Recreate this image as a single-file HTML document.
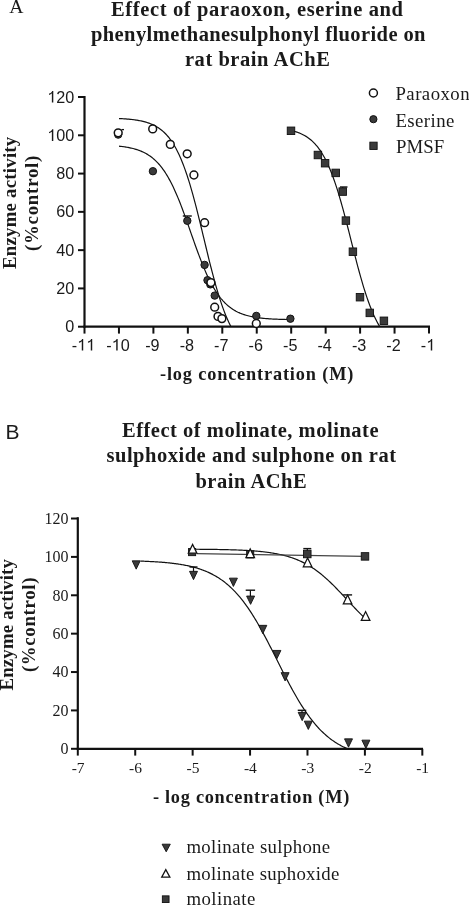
<!DOCTYPE html>
<html><head><meta charset="utf-8"><style>
html,body{margin:0;padding:0;background:#fff;}
svg{display:block;will-change:transform;}
</style></head><body>
<svg width="469" height="906" viewBox="0 0 469 906">
<rect width="469" height="906" fill="#fff"/>
<text x="9.18" y="12.9" font-family='"Liberation Serif", serif' font-size="17.8" fill="#1a1a1a" textLength="14.24" lengthAdjust="spacingAndGlyphs">A</text>
<text x="110.98" y="15.7" font-family='"Liberation Serif", serif' font-weight="bold" font-size="20.5" fill="#1a1a1a" textLength="292.00" lengthAdjust="spacing">Effect of paraoxon, eserine and</text>
<text x="91.00" y="40.7" font-family='"Liberation Serif", serif' font-weight="bold" font-size="20.5" fill="#1a1a1a" textLength="334.47" lengthAdjust="spacing">phenylmethanesulphonyl fluoride on</text>
<text x="184.95" y="66.2" font-family='"Liberation Serif", serif' font-weight="bold" font-size="20.5" fill="#1a1a1a" textLength="144.94" lengthAdjust="spacing">rat brain AChE</text>
<text x="159.98" y="380.4" font-family='"Liberation Serif", serif' font-weight="bold" font-size="18.3" fill="#1a1a1a" textLength="193.34" lengthAdjust="spacing">-log concentration (M)</text>
<text x="395.43" y="100.3" font-family='"Liberation Serif", serif' font-size="18.8" fill="#1a1a1a" textLength="74.17" lengthAdjust="spacing">Paraoxon</text>
<text x="395.43" y="126.8" font-family='"Liberation Serif", serif' font-size="18.8" fill="#1a1a1a" textLength="58.89" lengthAdjust="spacing">Eserine</text>
<text x="395.91" y="153.1" font-family='"Liberation Serif", serif' font-size="18.8" fill="#1a1a1a" textLength="48.38" lengthAdjust="spacing">PMSF</text>
<text transform="translate(16.0,269.03) rotate(-90)" font-family='"Liberation Serif", serif' font-weight="bold" font-size="18.8" fill="#1a1a1a" textLength="132.27" lengthAdjust="spacing">Enzyme activity</text>
<text transform="translate(38.0,251.09) rotate(-90)" font-family='"Liberation Serif", serif' font-weight="bold" font-size="18.8" fill="#1a1a1a" textLength="95.48" lengthAdjust="spacing">(%control)</text>
<text x="5.51" y="438.7" font-family='"Liberation Sans", sans-serif' font-size="19.5" fill="#1a1a1a" textLength="14.05" lengthAdjust="spacingAndGlyphs">B</text>
<text x="121.94" y="437.0" font-family='"Liberation Serif", serif' font-weight="bold" font-size="20.5" fill="#1a1a1a" textLength="256.62" lengthAdjust="spacing">Effect of molinate, molinate</text>
<text x="106.47" y="462.4" font-family='"Liberation Serif", serif' font-weight="bold" font-size="20.5" fill="#1a1a1a" textLength="289.62" lengthAdjust="spacing">sulphoxide and sulphone on rat</text>
<text x="195.45" y="488.4" font-family='"Liberation Serif", serif' font-weight="bold" font-size="20.5" fill="#1a1a1a" textLength="111.24" lengthAdjust="spacing">brain AChE</text>
<text x="152.92" y="802.7" font-family='"Liberation Serif", serif' font-weight="bold" font-size="18.3" fill="#1a1a1a" textLength="196.36" lengthAdjust="spacing">- log concentration (M)</text>
<text x="186.42" y="853.4" font-family='"Liberation Serif", serif' font-size="18.8" fill="#1a1a1a" textLength="143.77" lengthAdjust="spacing">molinate sulphone</text>
<text x="186.44" y="880.0" font-family='"Liberation Serif", serif' font-size="18.8" fill="#1a1a1a" textLength="152.91" lengthAdjust="spacing">molinate suphoxide</text>
<text x="186.41" y="905.4" font-family='"Liberation Serif", serif' font-size="18.8" fill="#1a1a1a" textLength="68.91" lengthAdjust="spacing">molinate</text>
<text transform="translate(13.3,690.52) rotate(-90)" font-family='"Liberation Serif", serif' font-weight="bold" font-size="18.8" fill="#1a1a1a" textLength="131.47" lengthAdjust="spacing">Enzyme activity</text>
<text transform="translate(35.3,672.08) rotate(-90)" font-family='"Liberation Serif", serif' font-weight="bold" font-size="18.8" fill="#1a1a1a" textLength="94.50" lengthAdjust="spacing">(%control)</text>
<line x1="84.5" y1="96" x2="84.5" y2="327.7" stroke="#111" stroke-width="2.2"/>
<line x1="83.5" y1="326.7" x2="430" y2="326.7" stroke="#111" stroke-width="2.2"/>
<line x1="78" y1="326.70" x2="84.5" y2="326.70" stroke="#111" stroke-width="2"/>
<text x="65.29" y="332.30" font-family='"Liberation Sans", sans-serif' font-size="16.2" fill="#1a1a1a">0</text>
<line x1="78" y1="288.42" x2="84.5" y2="288.42" stroke="#111" stroke-width="2"/>
<text x="56.28" y="294.02" font-family='"Liberation Sans", sans-serif' font-size="16.2" fill="#1a1a1a">20</text>
<line x1="78" y1="250.14" x2="84.5" y2="250.14" stroke="#111" stroke-width="2"/>
<text x="56.28" y="255.74" font-family='"Liberation Sans", sans-serif' font-size="16.2" fill="#1a1a1a">40</text>
<line x1="78" y1="211.86" x2="84.5" y2="211.86" stroke="#111" stroke-width="2"/>
<text x="56.28" y="217.46" font-family='"Liberation Sans", sans-serif' font-size="16.2" fill="#1a1a1a">60</text>
<line x1="78" y1="173.58" x2="84.5" y2="173.58" stroke="#111" stroke-width="2"/>
<text x="56.28" y="179.18" font-family='"Liberation Sans", sans-serif' font-size="16.2" fill="#1a1a1a">80</text>
<line x1="78" y1="135.30" x2="84.5" y2="135.30" stroke="#111" stroke-width="2"/>
<text x="47.27" y="140.90" font-family='"Liberation Sans", sans-serif' font-size="16.2" fill="#1a1a1a"> 00</text><path d="M53.30,140.90 L53.30,129.30 L52.21,129.30 L51.86,130.01 L51.24,130.77 L50.27,131.42 L49.04,131.89 L49.04,133.16 L50.11,132.75 L51.08,132.23 L51.86,131.63 L51.86,140.90 Z" fill="#1a1a1a"/>
<line x1="78" y1="97.02" x2="84.5" y2="97.02" stroke="#111" stroke-width="2"/>
<text x="47.27" y="102.62" font-family='"Liberation Sans", sans-serif' font-size="16.2" fill="#1a1a1a"> 20</text><path d="M53.30,102.62 L53.30,91.02 L52.21,91.02 L51.86,91.73 L51.24,92.49 L50.27,93.14 L49.04,93.61 L49.04,94.88 L50.11,94.47 L51.08,93.95 L51.86,93.35 L51.86,102.62 Z" fill="#1a1a1a"/>
<line x1="84.50" y1="326.7" x2="84.50" y2="333.6" stroke="#111" stroke-width="2"/>
<text x="71.79" y="350.60" font-family='"Liberation Sans", sans-serif' font-size="16.2" fill="#1a1a1a">-  </text><path d="M83.21,350.60 L83.21,339.00 L82.13,339.00 L81.77,339.71 L81.16,340.48 L80.18,341.12 L78.95,341.59 L78.95,342.86 L80.02,342.45 L80.99,341.93 L81.77,341.33 L81.77,350.60 Z" fill="#1a1a1a"/><path d="M92.22,350.60 L92.22,339.00 L91.14,339.00 L90.78,339.71 L90.17,340.48 L89.19,341.12 L87.96,341.59 L87.96,342.86 L89.03,342.45 L90.00,341.93 L90.78,341.33 L90.78,350.60 Z" fill="#1a1a1a"/>
<line x1="118.95" y1="326.7" x2="118.95" y2="333.6" stroke="#111" stroke-width="2"/>
<text x="106.24" y="350.60" font-family='"Liberation Sans", sans-serif' font-size="16.2" fill="#1a1a1a">- 0</text><path d="M117.66,350.60 L117.66,339.00 L116.58,339.00 L116.22,339.71 L115.61,340.48 L114.63,341.12 L113.40,341.59 L113.40,342.86 L114.47,342.45 L115.44,341.93 L116.22,341.33 L116.22,350.60 Z" fill="#1a1a1a"/>
<line x1="153.40" y1="326.7" x2="153.40" y2="333.6" stroke="#111" stroke-width="2"/>
<text x="145.20" y="350.60" font-family='"Liberation Sans", sans-serif' font-size="16.2" fill="#1a1a1a">-9</text>
<line x1="187.85" y1="326.7" x2="187.85" y2="333.6" stroke="#111" stroke-width="2"/>
<text x="179.65" y="350.60" font-family='"Liberation Sans", sans-serif' font-size="16.2" fill="#1a1a1a">-8</text>
<line x1="222.30" y1="326.7" x2="222.30" y2="333.6" stroke="#111" stroke-width="2"/>
<text x="214.10" y="350.60" font-family='"Liberation Sans", sans-serif' font-size="16.2" fill="#1a1a1a">-7</text>
<line x1="256.75" y1="326.7" x2="256.75" y2="333.6" stroke="#111" stroke-width="2"/>
<text x="248.55" y="350.60" font-family='"Liberation Sans", sans-serif' font-size="16.2" fill="#1a1a1a">-6</text>
<line x1="291.20" y1="326.7" x2="291.20" y2="333.6" stroke="#111" stroke-width="2"/>
<text x="283.00" y="350.60" font-family='"Liberation Sans", sans-serif' font-size="16.2" fill="#1a1a1a">-5</text>
<line x1="325.65" y1="326.7" x2="325.65" y2="333.6" stroke="#111" stroke-width="2"/>
<text x="317.45" y="350.60" font-family='"Liberation Sans", sans-serif' font-size="16.2" fill="#1a1a1a">-4</text>
<line x1="360.10" y1="326.7" x2="360.10" y2="333.6" stroke="#111" stroke-width="2"/>
<text x="351.90" y="350.60" font-family='"Liberation Sans", sans-serif' font-size="16.2" fill="#1a1a1a">-3</text>
<line x1="394.55" y1="326.7" x2="394.55" y2="333.6" stroke="#111" stroke-width="2"/>
<text x="386.35" y="350.60" font-family='"Liberation Sans", sans-serif' font-size="16.2" fill="#1a1a1a">-2</text>
<line x1="429.00" y1="326.7" x2="429.00" y2="333.6" stroke="#111" stroke-width="2"/>
<text x="420.80" y="350.60" font-family='"Liberation Sans", sans-serif' font-size="16.2" fill="#1a1a1a">- </text><path d="M432.22,350.60 L432.22,339.00 L431.13,339.00 L430.78,339.71 L430.16,340.48 L429.19,341.12 L427.96,341.59 L427.96,342.86 L429.03,342.45 L430.00,341.93 L430.78,341.33 L430.78,350.60 Z" fill="#1a1a1a"/>
<svg x="0" y="0" width="469" height="326.7" overflow="hidden">
<path d="M119.00,118.53 L120.00,118.58 L121.00,118.63 L122.00,118.69 L123.00,118.75 L124.00,118.81 L125.00,118.88 L126.00,118.95 L127.00,119.03 L128.00,119.12 L129.00,119.21 L130.00,119.30 L131.00,119.41 L132.00,119.52 L133.00,119.64 L134.00,119.76 L135.00,119.90 L136.00,120.04 L137.00,120.20 L138.00,120.37 L139.00,120.54 L140.00,120.74 L141.00,120.94 L142.00,121.16 L143.00,121.39 L144.00,121.64 L145.00,121.91 L146.00,122.19 L147.00,122.50 L148.00,122.82 L149.00,123.17 L150.00,123.54 L151.00,123.94 L152.00,124.36 L153.00,124.81 L154.00,125.30 L155.00,125.81 L156.00,126.36 L157.00,126.95 L158.00,127.57 L159.00,128.24 L160.00,128.95 L161.00,129.70 L162.00,130.51 L163.00,131.36 L164.00,132.27 L165.00,133.24 L166.00,134.26 L167.00,135.35 L168.00,136.51 L169.00,137.73 L170.00,139.03 L171.00,140.40 L172.00,141.86 L173.00,143.39 L174.00,145.01 L175.00,146.73 L176.00,148.53 L177.00,150.43 L178.00,152.42 L179.00,154.52 L180.00,156.72 L181.00,159.03 L182.00,161.44 L183.00,163.96 L184.00,166.60 L185.00,169.34 L186.00,172.19 L187.00,175.16 L188.00,178.23 L189.00,181.41 L190.00,184.70 L191.00,188.09 L192.00,191.57 L193.00,195.16 L194.00,198.83 L195.00,202.59 L196.00,206.42 L197.00,210.33 L198.00,214.30 L199.00,218.32 L200.00,222.39 L201.00,226.50 L202.00,230.63 L203.00,234.79 L204.00,238.95 L205.00,243.11 L206.00,247.26 L207.00,251.39 L208.00,255.49 L209.00,259.54 L210.00,263.55 L211.00,267.50 L212.00,271.39 L213.00,275.20 L214.00,278.93 L215.00,282.58 L216.00,286.13 L217.00,289.59 L218.00,292.95 L219.00,296.21 L220.00,299.35 L221.00,302.39 L222.00,305.33 L223.00,308.15 L224.00,310.86 L225.00,313.46 L226.00,315.94 L227.00,318.33 L228.00,320.60 L229.00,322.77 L230.00,324.84 L231.00,326.80 L232.00,328.67 L233.00,330.45 L234.00,332.13 L235.00,333.73" fill="none" stroke="#111" stroke-width="1.2"/>
<path d="M119.00,146.17 L120.00,146.28 L121.00,146.39 L122.00,146.51 L123.00,146.64 L124.00,146.78 L125.00,146.93 L126.00,147.09 L127.00,147.26 L128.00,147.44 L129.00,147.63 L130.00,147.83 L131.00,148.05 L132.00,148.28 L133.00,148.53 L134.00,148.79 L135.00,149.07 L136.00,149.36 L137.00,149.68 L138.00,150.01 L139.00,150.37 L140.00,150.75 L141.00,151.15 L142.00,151.58 L143.00,152.03 L144.00,152.51 L145.00,153.02 L146.00,153.56 L147.00,154.14 L148.00,154.75 L149.00,155.39 L150.00,156.08 L151.00,156.80 L152.00,157.56 L153.00,158.37 L154.00,159.22 L155.00,160.13 L156.00,161.08 L157.00,162.08 L158.00,163.14 L159.00,164.25 L160.00,165.42 L161.00,166.65 L162.00,167.94 L163.00,169.29 L164.00,170.71 L165.00,172.20 L166.00,173.75 L167.00,175.37 L168.00,177.06 L169.00,178.83 L170.00,180.66 L171.00,182.57 L172.00,184.54 L173.00,186.59 L174.00,188.71 L175.00,190.90 L176.00,193.16 L177.00,195.49 L178.00,197.88 L179.00,200.33 L180.00,202.84 L181.00,205.40 L182.00,208.02 L183.00,210.68 L184.00,213.39 L185.00,216.13 L186.00,218.91 L187.00,221.72 L188.00,224.55 L189.00,227.39 L190.00,230.25 L191.00,233.10 L192.00,235.96 L193.00,238.81 L194.00,241.64 L195.00,244.46 L196.00,247.25 L197.00,250.01 L198.00,252.73 L199.00,255.41 L200.00,258.04 L201.00,260.63 L202.00,263.16 L203.00,265.63 L204.00,268.04 L205.00,270.39 L206.00,272.67 L207.00,274.89 L208.00,277.03 L209.00,279.11 L210.00,281.11 L211.00,283.04 L212.00,284.91 L213.00,286.69 L214.00,288.41 L215.00,290.06 L216.00,291.64 L217.00,293.15 L218.00,294.59 L219.00,295.97 L220.00,297.28 L221.00,298.53 L222.00,299.72 L223.00,300.86 L224.00,301.93 L225.00,302.96 L226.00,303.93 L227.00,304.84 L228.00,305.72 L229.00,306.54 L230.00,307.32 L231.00,308.06 L232.00,308.75 L233.00,309.41 L234.00,310.04 L235.00,310.62 L236.00,311.18 L237.00,311.70 L238.00,312.19 L239.00,312.65 L240.00,313.09 L241.00,313.50 L242.00,313.89 L243.00,314.25 L244.00,314.59 L245.00,314.92 L246.00,315.22 L247.00,315.50 L248.00,315.77 L249.00,316.02 L250.00,316.26 L251.00,316.48 L252.00,316.69 L253.00,316.88 L254.00,317.07 L255.00,317.24 L256.00,317.40 L257.00,317.56 L258.00,317.70 L259.00,317.83 L260.00,317.96 L261.00,318.08 L262.00,318.19 L263.00,318.29 L264.00,318.39 L265.00,318.48 L266.00,318.56 L267.00,318.64 L268.00,318.72 L269.00,318.79 L270.00,318.86 L271.00,318.92 L272.00,318.98 L273.00,319.03 L274.00,319.08 L275.00,319.13 L276.00,319.17 L277.00,319.22 L278.00,319.26 L279.00,319.29 L280.00,319.33 L281.00,319.36 L282.00,319.39 L283.00,319.42 L284.00,319.44 L285.00,319.47 L286.00,319.49 L287.00,319.52 L288.00,319.54 L289.00,319.56 L290.00,319.57 L291.00,319.59" fill="none" stroke="#111" stroke-width="1.2"/>
<path d="M291.00,130.47 L292.00,130.71 L293.00,130.96 L294.00,131.23 L295.00,131.52 L296.00,131.83 L297.00,132.16 L298.00,132.52 L299.00,132.90 L300.00,133.30 L301.00,133.74 L302.00,134.20 L303.00,134.69 L304.00,135.22 L305.00,135.78 L306.00,136.38 L307.00,137.03 L308.00,137.71 L309.00,138.44 L310.00,139.21 L311.00,140.04 L312.00,140.92 L313.00,141.85 L314.00,142.84 L315.00,143.90 L316.00,145.02 L317.00,146.21 L318.00,147.47 L319.00,148.80 L320.00,150.21 L321.00,151.70 L322.00,153.28 L323.00,154.94 L324.00,156.70 L325.00,158.55 L326.00,160.49 L327.00,162.53 L328.00,164.68 L329.00,166.92 L330.00,169.27 L331.00,171.73 L332.00,174.29 L333.00,176.96 L334.00,179.73 L335.00,182.62 L336.00,185.60 L337.00,188.69 L338.00,191.88 L339.00,195.17 L340.00,198.55 L341.00,202.02 L342.00,205.57 L343.00,209.20 L344.00,212.90 L345.00,216.66 L346.00,220.48 L347.00,224.35 L348.00,228.25 L349.00,232.18 L350.00,236.13 L351.00,240.09 L352.00,244.06 L353.00,248.01 L354.00,251.94 L355.00,255.85 L356.00,259.71 L357.00,263.54 L358.00,267.30 L359.00,271.01 L360.00,274.64 L361.00,278.20 L362.00,281.67 L363.00,285.06 L364.00,288.35 L365.00,291.54 L366.00,294.64 L367.00,297.63 L368.00,300.52 L369.00,303.30 L370.00,305.98 L371.00,308.55 L372.00,311.01 L373.00,313.37 L374.00,315.62 L375.00,317.77 L376.00,319.82 L377.00,321.77 L378.00,323.62 L379.00,325.38 L380.00,327.05 L381.00,328.63 L382.00,330.13 L383.00,331.55 L384.00,332.88 L385.00,334.15" fill="none" stroke="#111" stroke-width="1.2"/>
</svg>
<circle cx="118.2" cy="134.6" r="3.70" fill="#3a3a3a" stroke="#111" stroke-width="1.0"/>
<circle cx="118.2" cy="132.8" r="3.9" fill="#fff" stroke="#111" stroke-width="1.5"/>
<line x1="121.5" y1="129.6" x2="124" y2="129.6" stroke="#111" stroke-width="1.3"/>
<circle cx="152.9" cy="171.2" r="3.70" fill="#3a3a3a" stroke="#111" stroke-width="1.0"/>
<circle cx="204.6" cy="264.9" r="3.70" fill="#3a3a3a" stroke="#111" stroke-width="1.0"/>
<circle cx="207.5" cy="280.2" r="3.70" fill="#3a3a3a" stroke="#111" stroke-width="1.0"/>
<circle cx="210.3" cy="284.4" r="3.70" fill="#3a3a3a" stroke="#111" stroke-width="1.0"/>
<circle cx="214.7" cy="295.6" r="3.70" fill="#3a3a3a" stroke="#111" stroke-width="1.0"/>
<circle cx="256.3" cy="315.9" r="3.70" fill="#3a3a3a" stroke="#111" stroke-width="1.0"/>
<circle cx="290.4" cy="318.7" r="3.70" fill="#3a3a3a" stroke="#111" stroke-width="1.0"/>
<line x1="187.3" y1="216" x2="187.3" y2="220.8" stroke="#111" stroke-width="1.2"/><line x1="182.8" y1="216" x2="191.8" y2="216" stroke="#111" stroke-width="1.4"/>
<circle cx="187.3" cy="220.8" r="3.70" fill="#3a3a3a" stroke="#111" stroke-width="1.0"/>
<circle cx="152.7" cy="128.9" r="3.9" fill="#fff" stroke="#111" stroke-width="1.5"/>
<circle cx="170.3" cy="144.4" r="3.9" fill="#fff" stroke="#111" stroke-width="1.5"/>
<circle cx="187.2" cy="153.8" r="3.9" fill="#fff" stroke="#111" stroke-width="1.5"/>
<circle cx="193.9" cy="175" r="3.9" fill="#fff" stroke="#111" stroke-width="1.5"/>
<circle cx="204.6" cy="222.7" r="3.9" fill="#fff" stroke="#111" stroke-width="1.5"/>
<circle cx="210.9" cy="282.6" r="3.9" fill="#fff" stroke="#111" stroke-width="1.5"/>
<circle cx="214.7" cy="307.2" r="3.9" fill="#fff" stroke="#111" stroke-width="1.5"/>
<circle cx="218.0" cy="316.4" r="3.9" fill="#fff" stroke="#111" stroke-width="1.5"/>
<circle cx="221.9" cy="318.6" r="3.9" fill="#fff" stroke="#111" stroke-width="1.5"/>
<circle cx="256.3" cy="323.5" r="3.9" fill="#fff" stroke="#111" stroke-width="1.5"/>
<rect x="287.25" y="127.05" width="7.50" height="7.50" fill="#3a3a3a" stroke="#111" stroke-width="0.9"/>
<rect x="314.15" y="151.25" width="7.50" height="7.50" fill="#3a3a3a" stroke="#111" stroke-width="0.9"/>
<rect x="321.35" y="159.45" width="7.50" height="7.50" fill="#3a3a3a" stroke="#111" stroke-width="0.9"/>
<rect x="331.95" y="169.15" width="7.50" height="7.50" fill="#3a3a3a" stroke="#111" stroke-width="0.9"/>
<rect x="342.15" y="216.85" width="7.50" height="7.50" fill="#3a3a3a" stroke="#111" stroke-width="0.9"/>
<rect x="349.15" y="247.95" width="7.50" height="7.50" fill="#3a3a3a" stroke="#111" stroke-width="0.9"/>
<rect x="356.25" y="293.45" width="7.50" height="7.50" fill="#3a3a3a" stroke="#111" stroke-width="0.9"/>
<rect x="366.05" y="309.15" width="7.50" height="7.50" fill="#3a3a3a" stroke="#111" stroke-width="0.9"/>
<rect x="380.15" y="317.05" width="7.50" height="7.50" fill="#3a3a3a" stroke="#111" stroke-width="0.9"/>
<line x1="342.7" y1="187" x2="342.7" y2="191.6" stroke="#111" stroke-width="1.2"/><line x1="340" y1="187" x2="347.5" y2="187" stroke="#111" stroke-width="1.4"/>
<rect x="338.95" y="187.85" width="7.50" height="7.50" fill="#3a3a3a" stroke="#111" stroke-width="0.9"/>
<circle cx="373.4" cy="93.0" r="4.0" fill="#fff" stroke="#111" stroke-width="1.5"/>
<circle cx="373.4" cy="119.2" r="3.60" fill="#3a3a3a" stroke="#111" stroke-width="1.0"/>
<rect x="369.85" y="142.15" width="7.30" height="7.30" fill="#3a3a3a" stroke="#111" stroke-width="0.9"/>
<line x1="77.8" y1="517.2" x2="77.8" y2="749.8" stroke="#111" stroke-width="2.2"/>
<line x1="76.8" y1="748.8" x2="423" y2="748.8" stroke="#111" stroke-width="2.2"/>
<line x1="71" y1="748.80" x2="77.8" y2="748.80" stroke="#111" stroke-width="2"/>
<text x="68.4" y="754.20" text-anchor="end" font-family='"Liberation Serif", serif' font-size="16" fill="#1a1a1a">0</text>
<line x1="71" y1="710.42" x2="77.8" y2="710.42" stroke="#111" stroke-width="2"/>
<text x="68.4" y="715.82" text-anchor="end" font-family='"Liberation Serif", serif' font-size="16" fill="#1a1a1a">20</text>
<line x1="71" y1="672.04" x2="77.8" y2="672.04" stroke="#111" stroke-width="2"/>
<text x="68.4" y="677.44" text-anchor="end" font-family='"Liberation Serif", serif' font-size="16" fill="#1a1a1a">40</text>
<line x1="71" y1="633.66" x2="77.8" y2="633.66" stroke="#111" stroke-width="2"/>
<text x="68.4" y="639.06" text-anchor="end" font-family='"Liberation Serif", serif' font-size="16" fill="#1a1a1a">60</text>
<line x1="71" y1="595.28" x2="77.8" y2="595.28" stroke="#111" stroke-width="2"/>
<text x="68.4" y="600.68" text-anchor="end" font-family='"Liberation Serif", serif' font-size="16" fill="#1a1a1a">80</text>
<line x1="71" y1="556.90" x2="77.8" y2="556.90" stroke="#111" stroke-width="2"/>
<text x="68.4" y="562.30" text-anchor="end" font-family='"Liberation Serif", serif' font-size="16" fill="#1a1a1a">100</text>
<line x1="71" y1="518.52" x2="77.8" y2="518.52" stroke="#111" stroke-width="2"/>
<text x="68.4" y="523.92" text-anchor="end" font-family='"Liberation Serif", serif' font-size="16" fill="#1a1a1a">120</text>
<line x1="77.80" y1="748.8" x2="77.80" y2="755.6" stroke="#111" stroke-width="2"/>
<text x="78.10" y="772.5" text-anchor="middle" font-family='"Liberation Serif", serif' font-size="15.5" fill="#1a1a1a">-7</text>
<line x1="135.22" y1="748.8" x2="135.22" y2="755.6" stroke="#111" stroke-width="2"/>
<text x="135.52" y="772.5" text-anchor="middle" font-family='"Liberation Serif", serif' font-size="15.5" fill="#1a1a1a">-6</text>
<line x1="192.64" y1="748.8" x2="192.64" y2="755.6" stroke="#111" stroke-width="2"/>
<text x="192.94" y="772.5" text-anchor="middle" font-family='"Liberation Serif", serif' font-size="15.5" fill="#1a1a1a">-5</text>
<line x1="250.06" y1="748.8" x2="250.06" y2="755.6" stroke="#111" stroke-width="2"/>
<text x="250.36" y="772.5" text-anchor="middle" font-family='"Liberation Serif", serif' font-size="15.5" fill="#1a1a1a">-4</text>
<line x1="307.48" y1="748.8" x2="307.48" y2="755.6" stroke="#111" stroke-width="2"/>
<text x="307.78" y="772.5" text-anchor="middle" font-family='"Liberation Serif", serif' font-size="15.5" fill="#1a1a1a">-3</text>
<line x1="364.90" y1="748.8" x2="364.90" y2="755.6" stroke="#111" stroke-width="2"/>
<text x="365.20" y="772.5" text-anchor="middle" font-family='"Liberation Serif", serif' font-size="15.5" fill="#1a1a1a">-2</text>
<line x1="422.32" y1="748.8" x2="422.32" y2="755.6" stroke="#111" stroke-width="2"/>
<text x="422.62" y="772.5" text-anchor="middle" font-family='"Liberation Serif", serif' font-size="15.5" fill="#1a1a1a">-1</text>
<svg x="0" y="0" width="469" height="748.8" overflow="hidden">
<path d="M140.50,561.11 L141.50,561.15 L142.50,561.18 L143.50,561.22 L144.50,561.26 L145.50,561.30 L146.50,561.34 L147.50,561.39 L148.50,561.43 L149.50,561.48 L150.50,561.53 L151.50,561.58 L152.50,561.63 L153.50,561.69 L154.50,561.75 L155.50,561.81 L156.50,561.87 L157.50,561.94 L158.50,562.00 L159.50,562.07 L160.50,562.15 L161.50,562.22 L162.50,562.30 L163.50,562.39 L164.50,562.47 L165.50,562.56 L166.50,562.65 L167.50,562.75 L168.50,562.85 L169.50,562.95 L170.50,563.06 L171.50,563.17 L172.50,563.29 L173.50,563.41 L174.50,563.54 L175.50,563.67 L176.50,563.81 L177.50,563.95 L178.50,564.10 L179.50,564.25 L180.50,564.41 L181.50,564.57 L182.50,564.75 L183.50,564.92 L184.50,565.11 L185.50,565.30 L186.50,565.50 L187.50,565.71 L188.50,565.92 L189.50,566.15 L190.50,566.38 L191.50,566.62 L192.50,566.87 L193.50,567.13 L194.50,567.40 L195.50,567.68 L196.50,567.97 L197.50,568.27 L198.50,568.59 L199.50,568.91 L200.50,569.25 L201.50,569.60 L202.50,569.96 L203.50,570.33 L204.50,570.72 L205.50,571.12 L206.50,571.54 L207.50,571.97 L208.50,572.42 L209.50,572.89 L210.50,573.37 L211.50,573.86 L212.50,574.38 L213.50,574.91 L214.50,575.46 L215.50,576.03 L216.50,576.62 L217.50,577.23 L218.50,577.86 L219.50,578.51 L220.50,579.18 L221.50,579.88 L222.50,580.60 L223.50,581.34 L224.50,582.10 L225.50,582.89 L226.50,583.70 L227.50,584.54 L228.50,585.40 L229.50,586.29 L230.50,587.21 L231.50,588.15 L232.50,589.13 L233.50,590.13 L234.50,591.15 L235.50,592.21 L236.50,593.30 L237.50,594.41 L238.50,595.55 L239.50,596.73 L240.50,597.93 L241.50,599.17 L242.50,600.43 L243.50,601.73 L244.50,603.06 L245.50,604.41 L246.50,605.80 L247.50,607.22 L248.50,608.67 L249.50,610.15 L250.50,611.65 L251.50,613.19 L252.50,614.76 L253.50,616.35 L254.50,617.98 L255.50,619.63 L256.50,621.31 L257.50,623.01 L258.50,624.74 L259.50,626.50 L260.50,628.28 L261.50,630.08 L262.50,631.90 L263.50,633.74 L264.50,635.61 L265.50,637.49 L266.50,639.39 L267.50,641.30 L268.50,643.23 L269.50,645.17 L270.50,647.13 L271.50,649.09 L272.50,651.06 L273.50,653.04 L274.50,655.03 L275.50,657.02 L276.50,659.01 L277.50,661.01 L278.50,663.00 L279.50,664.99 L280.50,666.97 L281.50,668.96 L282.50,670.93 L283.50,672.90 L284.50,674.85 L285.50,676.80 L286.50,678.73 L287.50,680.65 L288.50,682.55 L289.50,684.43 L290.50,686.30 L291.50,688.15 L292.50,689.97 L293.50,691.78 L294.50,693.56 L295.50,695.32 L296.50,697.06 L297.50,698.76 L298.50,700.45 L299.50,702.10 L300.50,703.73 L301.50,705.33 L302.50,706.91 L303.50,708.45 L304.50,709.96 L305.50,711.45 L306.50,712.90 L307.50,714.32 L308.50,715.72 L309.50,717.08 L310.50,718.41 L311.50,719.71 L312.50,720.98 L313.50,722.22 L314.50,723.43 L315.50,724.61 L316.50,725.76 L317.50,726.89 L318.50,727.98 L319.50,729.04 L320.50,730.07 L321.50,731.08 L322.50,732.05 L323.50,733.00 L324.50,733.92 L325.50,734.82 L326.50,735.69 L327.50,736.53 L328.50,737.35 L329.50,738.14 L330.50,738.91 L331.50,739.65 L332.50,740.37 L333.50,741.07 L334.50,741.75 L335.50,742.40 L336.50,743.04 L337.50,743.65 L338.50,744.24 L339.50,744.82 L340.50,745.37 L341.50,745.91 L342.50,746.43 L343.50,746.93 L344.50,747.41 L345.50,747.88 L346.50,748.33 L347.50,748.76 L348.50,749.18" fill="none" stroke="#111" stroke-width="1.2"/>
<path d="M196.00,549.25 L197.00,549.26 L198.00,549.27 L199.00,549.27 L200.00,549.28 L201.00,549.29 L202.00,549.30 L203.00,549.31 L204.00,549.31 L205.00,549.32 L206.00,549.33 L207.00,549.34 L208.00,549.35 L209.00,549.37 L210.00,549.38 L211.00,549.39 L212.00,549.40 L213.00,549.42 L214.00,549.43 L215.00,549.44 L216.00,549.46 L217.00,549.47 L218.00,549.49 L219.00,549.51 L220.00,549.53 L221.00,549.55 L222.00,549.56 L223.00,549.58 L224.00,549.61 L225.00,549.63 L226.00,549.65 L227.00,549.68 L228.00,549.70 L229.00,549.73 L230.00,549.75 L231.00,549.78 L232.00,549.81 L233.00,549.84 L234.00,549.88 L235.00,549.91 L236.00,549.95 L237.00,549.98 L238.00,550.02 L239.00,550.06 L240.00,550.10 L241.00,550.15 L242.00,550.19 L243.00,550.24 L244.00,550.29 L245.00,550.34 L246.00,550.40 L247.00,550.45 L248.00,550.51 L249.00,550.57 L250.00,550.64 L251.00,550.70 L252.00,550.77 L253.00,550.84 L254.00,550.92 L255.00,551.00 L256.00,551.08 L257.00,551.17 L258.00,551.25 L259.00,551.35 L260.00,551.44 L261.00,551.54 L262.00,551.65 L263.00,551.76 L264.00,551.87 L265.00,551.99 L266.00,552.11 L267.00,552.24 L268.00,552.38 L269.00,552.52 L270.00,552.66 L271.00,552.81 L272.00,552.97 L273.00,553.13 L274.00,553.30 L275.00,553.48 L276.00,553.66 L277.00,553.86 L278.00,554.05 L279.00,554.26 L280.00,554.48 L281.00,554.70 L282.00,554.93 L283.00,555.17 L284.00,555.42 L285.00,555.68 L286.00,555.95 L287.00,556.24 L288.00,556.53 L289.00,556.83 L290.00,557.14 L291.00,557.47 L292.00,557.80 L293.00,558.15 L294.00,558.51 L295.00,558.89 L296.00,559.27 L297.00,559.67 L298.00,560.09 L299.00,560.52 L300.00,560.96 L301.00,561.42 L302.00,561.89 L303.00,562.38 L304.00,562.89 L305.00,563.41 L306.00,563.94 L307.00,564.50 L308.00,565.07 L309.00,565.65 L310.00,566.26 L311.00,566.88 L312.00,567.52 L313.00,568.17 L314.00,568.85 L315.00,569.54 L316.00,570.25 L317.00,570.98 L318.00,571.73 L319.00,572.49 L320.00,573.27 L321.00,574.07 L322.00,574.89 L323.00,575.72 L324.00,576.58 L325.00,577.44 L326.00,578.33 L327.00,579.23 L328.00,580.15 L329.00,581.08 L330.00,582.02 L331.00,582.98 L332.00,583.96 L333.00,584.94 L334.00,585.94 L335.00,586.95 L336.00,587.97 L337.00,589.01 L338.00,590.05 L339.00,591.10 L340.00,592.15 L341.00,593.21 L342.00,594.28 L343.00,595.35 L344.00,596.43 L345.00,597.51 L346.00,598.59 L347.00,599.67 L348.00,600.75 L349.00,601.83 L350.00,602.91 L351.00,603.98 L352.00,605.05 L353.00,606.12 L354.00,607.18 L355.00,608.23 L356.00,609.27 L357.00,610.30 L358.00,611.33 L359.00,612.34 L360.00,613.34 L361.00,614.33 L362.00,615.31 L363.00,616.28 L364.00,617.23 L365.00,618.16 L366.00,619.08" fill="none" stroke="#111" stroke-width="1.2"/>
<path d="M196.7,553.7 L365,556.3" fill="none" stroke="#444" stroke-width="1.3"/>
</svg>
<rect x="188.55" y="548.55" width="7.10" height="7.10" fill="#3a3a3a" stroke="#111" stroke-width="0.9"/>
<rect x="246.65" y="550.85" width="7.10" height="7.10" fill="#3a3a3a" stroke="#111" stroke-width="0.9"/>
<line x1="307.3" y1="548.6" x2="307.3" y2="554" stroke="#111" stroke-width="1.2"/><line x1="303.3" y1="548.6" x2="311.3" y2="548.6" stroke="#111" stroke-width="1.4"/>
<rect x="303.55" y="550.25" width="7.50" height="7.50" fill="#3a3a3a" stroke="#111" stroke-width="0.9"/>
<rect x="361.25" y="552.65" width="7.50" height="7.50" fill="#3a3a3a" stroke="#111" stroke-width="0.9"/>
<path d="M132.20,560.85 L140.20,560.85 L136.20,569.15 Z" fill="#3a3a3a" stroke="#111" stroke-width="0.9" stroke-linejoin="round"/>
<path d="M229.40,578.15 L237.40,578.15 L233.40,586.45 Z" fill="#3a3a3a" stroke="#111" stroke-width="0.9" stroke-linejoin="round"/>
<path d="M258.80,625.35 L266.80,625.35 L262.80,633.65 Z" fill="#3a3a3a" stroke="#111" stroke-width="0.9" stroke-linejoin="round"/>
<path d="M272.90,650.45 L280.90,650.45 L276.90,658.75 Z" fill="#3a3a3a" stroke="#111" stroke-width="0.9" stroke-linejoin="round"/>
<path d="M281.10,672.65 L289.10,672.65 L285.10,680.95 Z" fill="#3a3a3a" stroke="#111" stroke-width="0.9" stroke-linejoin="round"/>
<path d="M304.30,721.15 L312.30,721.15 L308.30,729.45 Z" fill="#3a3a3a" stroke="#111" stroke-width="0.9" stroke-linejoin="round"/>
<path d="M344.50,738.85 L352.50,738.85 L348.50,747.15 Z" fill="#3a3a3a" stroke="#111" stroke-width="0.9" stroke-linejoin="round"/>
<path d="M361.90,740.15 L369.90,740.15 L365.90,748.45 Z" fill="#3a3a3a" stroke="#111" stroke-width="0.9" stroke-linejoin="round"/>
<line x1="193.5" y1="567" x2="193.5" y2="575" stroke="#111" stroke-width="1.2"/><line x1="189.5" y1="567" x2="197.5" y2="567" stroke="#111" stroke-width="1.4"/>
<path d="M189.50,571.35 L197.50,571.35 L193.50,579.65 Z" fill="#3a3a3a" stroke="#111" stroke-width="0.9" stroke-linejoin="round"/>
<line x1="250.4" y1="590.2" x2="250.4" y2="598" stroke="#111" stroke-width="1.2"/><line x1="245.70000000000002" y1="590.2" x2="255.1" y2="590.2" stroke="#111" stroke-width="1.4"/>
<path d="M246.60,596.05 L254.60,596.05 L250.60,604.35 Z" fill="#3a3a3a" stroke="#111" stroke-width="0.9" stroke-linejoin="round"/>
<line x1="302.0" y1="710.3" x2="302.0" y2="716" stroke="#111" stroke-width="1.2"/><line x1="297.75" y1="710.3" x2="306.25" y2="710.3" stroke="#111" stroke-width="1.4"/>
<path d="M298.20,712.35 L306.20,712.35 L302.20,720.65 Z" fill="#3a3a3a" stroke="#111" stroke-width="0.9" stroke-linejoin="round"/>
<path d="M188.30,553.20 L196.90,553.20 L192.60,544.40 Z" fill="#fff" stroke="#111" stroke-width="1.25"/>
<path d="M245.90,557.70 L254.50,557.70 L250.20,548.90 Z" fill="#fff" stroke="#111" stroke-width="1.25"/>
<path d="M303.30,566.80 L311.90,566.80 L307.60,558.00 Z" fill="#fff" stroke="#111" stroke-width="1.25"/>
<path d="M361.30,620.40 L369.90,620.40 L365.60,611.60 Z" fill="#fff" stroke="#111" stroke-width="1.25"/>
<line x1="347.6" y1="594.9" x2="347.6" y2="599" stroke="#111" stroke-width="1.2"/><line x1="343.1" y1="594.9" x2="352.1" y2="594.9" stroke="#111" stroke-width="1.4"/>
<path d="M343.30,603.90 L351.90,603.90 L347.60,595.10 Z" fill="#fff" stroke="#111" stroke-width="1.25"/>
<path d="M162.10,844.20 L170.30,844.20 L166.20,851.80 Z" fill="#3a3a3a" stroke="#111" stroke-width="0.9" stroke-linejoin="round"/>
<path d="M161.70,877.20 L169.90,877.20 L165.80,869.60 Z" fill="#fff" stroke="#111" stroke-width="1.25"/>
<rect x="162.35" y="895.85" width="6.70" height="6.70" fill="#3a3a3a" stroke="#111" stroke-width="0.9"/>
</svg>
</body></html>
